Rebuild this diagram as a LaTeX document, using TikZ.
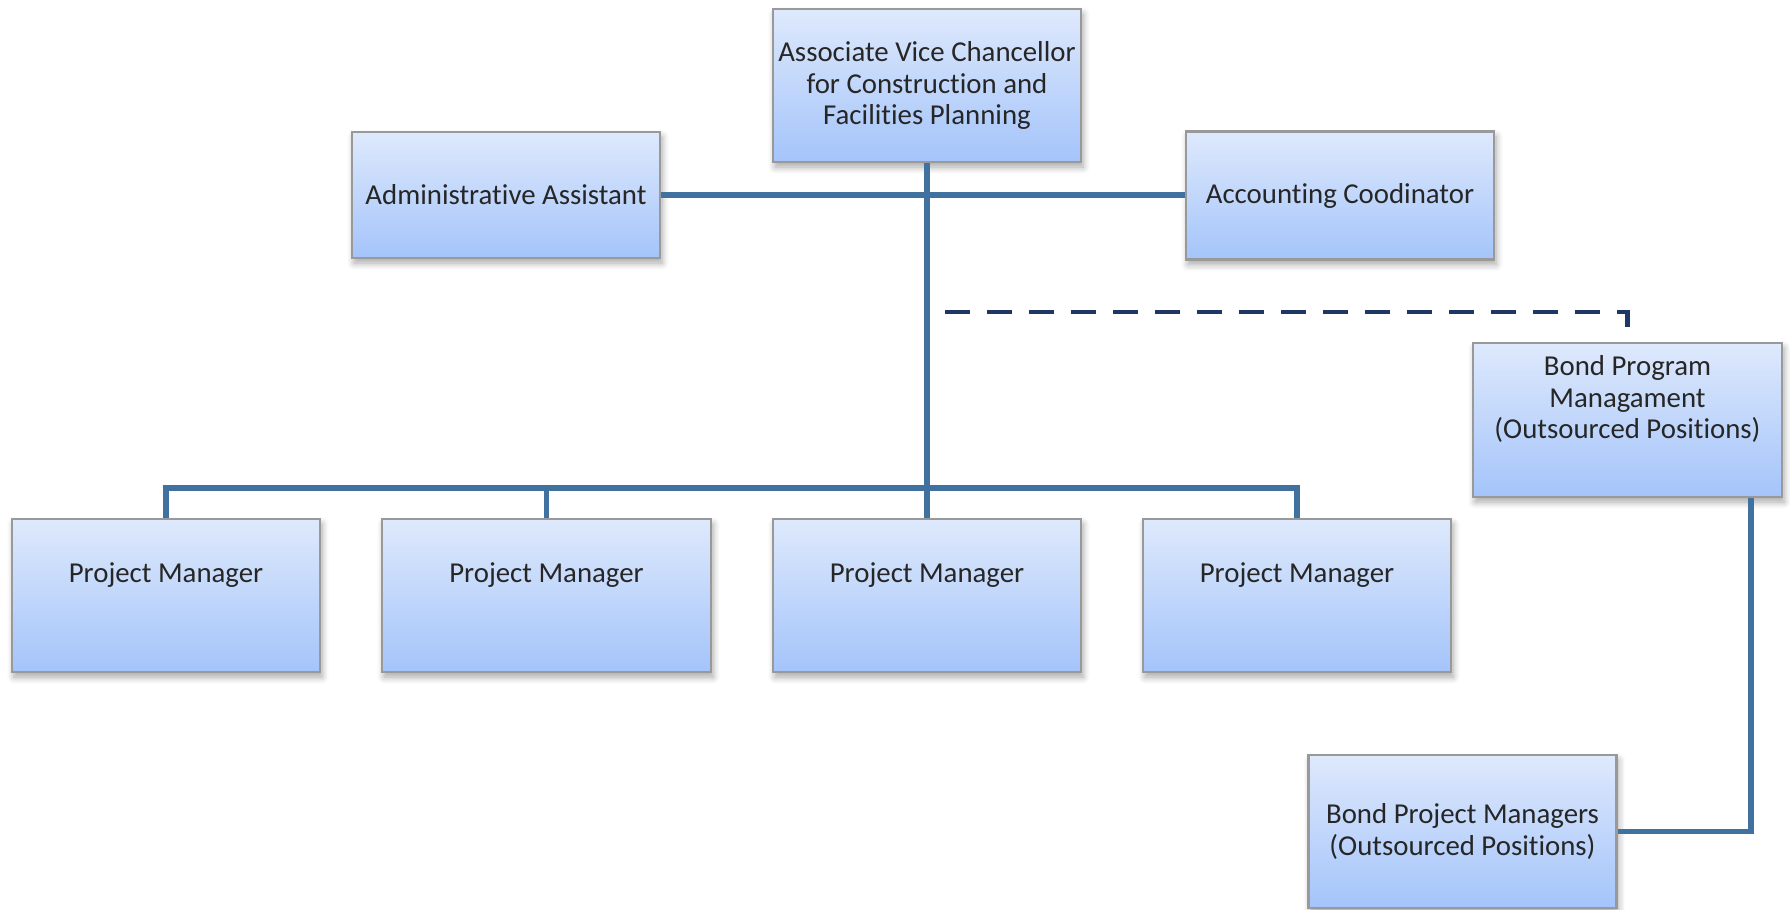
\documentclass[tikz,border=0pt]{standalone}
\usepackage{fontspec}
\setmainfont{Carlito}[Ligatures=NoCommon]
\usepackage{xcolor}
\usepackage{tikz}
\usetikzlibrary{positioning,calc,shadows.blur}
\definecolor{boxtop}{RGB}{222,233,252}
\definecolor{boxbot}{RGB}{164,196,250}
\definecolor{linkblue}{RGB}{65,113,158}
\definecolor{dashnavy}{RGB}{31,55,99}
\tikzstyle{org}= [rectangle, draw=black!40, line width=0.6pt, top color=boxtop, bottom color=boxbot,
  blur shadow={shadow xshift=0.02cm, shadow yshift=-0.05cm, shadow blur steps=6, shadow opacity=35},
  align=center, font=\fontsize{8.2}{8.9}\selectfont, text=black!85, inner sep=0pt,
  minimum width=3.08cm, minimum height=1.53cm]
\tikzstyle{upper}= [text depth=0.46cm]
\tikzstyle{link}= [draw=linkblue, line width=1.6pt]
\tikzstyle{dashlink}= [draw=dashnavy, line width=1.4pt, dash pattern=on 0.25cm off 0.17cm]

\begin{document}
\begin{tikzpicture}
				\useasboundingbox (0,0) rectangle (17.9,-9.09);
				\node[org] (avc) at (9.27, -0.855) {Associate Vice Chancellor\\for Construction and\\Facilities Planning};
				\node[org, minimum height=1.26cm] (admin) at (5.06, -1.95) {Administrative Assistant};
				\node[org, minimum height=1.28cm] (acct) at (13.40, -1.955) {Accounting Coodinator};
				\node[org, upper, minimum width=3.09cm, minimum height=1.54cm] (bpm) at (16.275, -4.20) {Bond Program\\Managament\\(Outsourced Positions)};
				\node[org, upper] (pm1) at (1.66, -5.955) {Project Manager};
				\node[org, upper, minimum width=3.29cm] (pm2) at (5.465, -5.955) {Project Manager};
				\node[org, upper] (pm3) at (9.27, -5.955) {Project Manager};
				\node[org, upper] (pm4) at (12.97, -5.955) {Project Manager};
				\node[org] (bpms) at (14.625, -8.315) {Bond Project Managers\\(Outsourced Positions)};
				\coordinate (dstart) at (9.45, -3.12);
				
				\draw[link] (admin.east) -- (admin.east -| acct.west);
				\draw[link] (avc.south) -- (pm3.north);
				\draw[link] (pm1.north) -- ++(0,0.30) -| (pm4.north);
				\draw[link] (pm2.north) -- ++(0,0.30);
				\draw[dashlink] (dstart) -| (bpm.north);
				\draw[link] ([xshift=-0.32cm]bpm.south east) |- (bpms.east);
			\end{tikzpicture}
\end{document}
